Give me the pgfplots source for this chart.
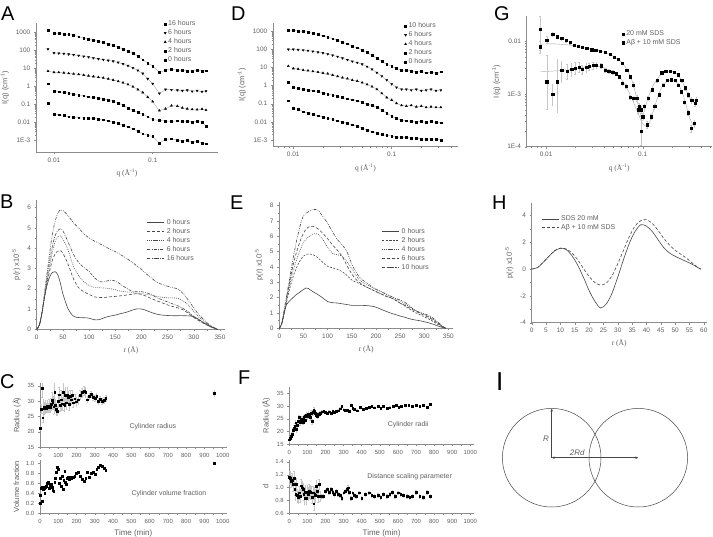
\documentclass[border=0pt]{standalone}
\usepackage{pgfplots}
\pgfplotsset{compat=1.18}
\usepackage{pgfplotstable}
\usepackage{fontspec}
\setmainfont{Liberation Sans}
\newfontfamily\seriffont{Liberation Serif}
\usetikzlibrary{arrows.meta}

\definecolor{axgray}{RGB}{140,140,140}
\definecolor{txtgray}{RGB}{95,95,95}
\definecolor{curve}{RGB}{70,70,70}

% ---------- SAXS curves, panel A ----------
\pgfplotstableread{
q      a16   a6    a4     a2     a0
0.0087 1290  117   6.9    1.4    0.12
0.0100 891   71    6.0    0.52   0.0275
0.0112 851   68    5.9    0.50   0.026
0.0126 813   65    5.6    0.45   0.024
0.0141 759   60    5.2    0.42   0.020
0.0158 692   56    4.9    0.35   0.019
0.0178 575   51    4.6    0.33   0.0178
0.0200 479   46    4.2    0.30   0.0174
0.0224 417   42    3.8    0.26   0.017
0.0251 363   37    3.5    0.24   0.0166
0.0282 316   33    3.2    0.22   0.015
0.0316 269   30    2.95   0.20   0.0138
0.0355 229   27    2.6    0.17   0.012
0.0398 186   24.5  2.24   0.15   0.010
0.0447 151   21    1.9    0.12   0.0085
0.0501 120   17.4  1.58   0.089  0.0071
0.0562 93    13.8  1.26   0.063  0.0056
0.0631 71    10.5  0.95   0.045  0.0043
0.0708 47    7.6   0.66   0.035  0.0032
0.0794 30    5.1   0.45   0.028  0.0023
0.0891 20    2.6   0.25   0.020  0.0019
0.1000 13.2  1.4   0.14   0.014  0.0016
0.117  5.8   0.40  0.044  0.0126 0.0007
0.135  8.0   0.66  0.056  0.0117 0.0011
0.155  8.9   0.63  0.083  0.0112 0.0012
0.178  7.9   0.60  0.079  0.012  0.0010
0.200  7.6   0.56  0.063  0.0112 0.0009
0.224  7.2   0.60  0.056  0.0115 0.00095
0.251  6.9   0.52  0.052  0.0105 0.0008
0.282  7.6   0.56  0.050  0.011  0.0009
0.316  7.2   0.50  0.054  0.010  0.0007
0.347  7.4   0.54  0.047  0.0063 0.00063
}\tabA

% ---------- SAXS curves, panel D ----------
\pgfplotstableread{
q      d10   d6    d4     d2     d0
0.0089 1122  98    11.7   1.6    0.148
0.0100 1096  98    8.7    0.79   0.055
0.0112 1000  93    8.1    0.69   0.049
0.0126 955   89    7.1    0.62   0.036
0.0141 871   83    6.6    0.56   0.030
0.0158 741   76    6.0    0.52   0.026
0.0178 661   68    5.5    0.48   0.022
0.0200 550   62    4.9    0.39   0.0186
0.0224 468   54    4.5    0.34   0.0155
0.0251 380   46    3.8    0.30   0.0138
0.0282 309   39    3.2    0.25   0.0115
0.0316 245   32    2.7    0.22   0.0098
0.0355 200   26    2.4    0.19   0.0083
0.0398 148   21.4  2.0    0.166  0.0069
0.0447 120   18.2  1.78   0.148  0.0059
0.0501 89    14.8  1.45   0.117  0.0046
0.0562 65    11.0  1.15   0.095  0.0035
0.0631 46    7.8   0.87   0.081  0.0029
0.0708 32    5.1   0.62   0.063  0.0023
0.0794 21    3.3   0.37   0.045  0.0020
0.0891 15.1  2.0   0.22   0.030  0.0018
0.1000 11.5  1.2   0.16   0.021  0.00166
0.112  8.9   0.79  0.105  0.0155 0.0015
0.126  6.8   0.62  0.081  0.0126 0.0014
0.141  7.1   0.62  0.074  0.0115 0.0014
0.158  6.3   0.56  0.081  0.0107 0.0013
0.178  5.5   0.62  0.068  0.0098 0.0013
0.200  6.0   0.52  0.074  0.0107 0.00117
0.224  5.1   0.56  0.063  0.0093 0.0011
0.251  5.5   0.62  0.068  0.0105 0.00117
0.282  4.9   0.52  0.063  0.0093 0.0011
0.316  5.8   0.56  0.063  0.0091 0.0010
}\tabD

% ---------- panel G, 20 mM SDS ----------
\pgfplotstableread{
q       i        ep    em
0.00867 0.0078   0.25  0.25
0.01016 0.0105   0.15  0.15
0.0117  0.0134   0.08  0.08
0.0131  0.0120   0.07  0.07
0.0145  0.0112   0.06  0.06
0.0160  0.0102   0.06  0.06
0.0177  0.0093   0.05  0.05
0.0196  0.0084   0.05  0.05
0.0216  0.0080   0.05  0.05
0.0237  0.0076   0.05  0.05
0.0263  0.0073   0.04  0.04
0.0296  0.0068   0.04  0.04
0.0326  0.0066   0.04  0.04
0.0362  0.0063   0.04  0.04
0.0407  0.0062   0.04  0.04
0.0459  0.0057   0.04  0.04
0.0509  0.0050   0.04  0.04
0.056   0.0045   0.05  0.05
0.0615  0.0038   0.05  0.05
0.0682  0.0028   0.06  0.06
0.0739  0.0021   0.08  0.08
0.080   0.00148  0.10  0.10
0.0867  0.00083  0.12  0.12
0.0916  0.00058  0.15  0.15
0.0961  0.0005   0.15  0.15
0.104   0.00058  0.12  0.12
0.114   0.00083  0.10  0.10
0.126   0.0012   0.08  0.08
0.140   0.0018   0.06  0.06
0.157   0.0025   0.05  0.05
0.173   0.0027   0.05  0.05
0.191   0.0027   0.05  0.05
0.212   0.0026   0.05  0.05
0.233   0.0023   0.05  0.05
0.253   0.0018   0.06  0.06
0.274   0.0013   0.08  0.08
0.296   0.00096  0.10  0.10
0.321   0.00077  0.12  0.12
0.347   0.00067  0.12  0.12
0.361   0.00077  0.12  0.12
}\tabGa

% ---------- panel G, Abeta + 10 mM SDS ----------
\pgfplotstableread{
q       i        ep    em
0.00867 0.0166   0.75  0.60
0.01016 0.0017   2.2   0.70
0.0117  0.0010   0.5   0.40
0.0131  0.0017   1.6   0.73
0.0145  0.0028   0.5   0.40
0.0164  0.0027   0.35  0.30
0.0184  0.0029   0.30  0.25
0.0199  0.0031   0.30  0.25
0.0220  0.0032   0.25  0.20
0.0237  0.0029   0.20  0.20
0.0263  0.0032   0.20  0.20
0.0280  0.0033   0.15  0.15
0.0305  0.0035   0.15  0.15
0.0333  0.0035   0.12  0.12
0.0370  0.0034   0.10  0.10
0.0407  0.0028   0.10  0.10
0.0445  0.0027   0.08  0.08
0.0490  0.0026   0.08  0.08
0.0530  0.0024   0.08  0.08
0.0570  0.0021   0.08  0.08
0.0615  0.0016   0.08  0.08
0.0670  0.0014   0.08  0.08
0.0739  0.00087  0.10  0.10
0.0800  0.00082  0.10  0.10
0.0900  0.0005   0.15  0.15
0.0961  0.000195 0.9   0.45
0.1000  0.00037  0.15  0.15
0.111   0.00026  0.15  0.15
0.122   0.00037  0.12  0.12
0.133   0.00058  0.10  0.10
0.147   0.00096  0.08  0.08
0.162   0.00148  0.06  0.06
0.178   0.0018   0.05  0.05
0.196   0.00185  0.05  0.05
0.216   0.0018   0.05  0.05
0.232   0.00148  0.06  0.06
0.250   0.0011   0.08  0.08
0.271   0.0007   0.10  0.10
0.293   0.00044  0.12  0.12
0.318   0.00022  0.15  0.15
0.343   0.00028  0.15  0.15
}\tabGb

% ---------- panel G, model fits ----------
\pgfplotstableread{
q      fa       fb
0.0087 0.0087   0.0026
0.012  0.0088   0.0027
0.016  0.0085   0.0028
0.020  0.0080   0.0030
0.030  0.0070   0.0033
0.036  0.0065   0.0033
0.040  0.0061   0.0031
0.050  0.0051   0.0026
0.060  0.0040   0.0019
0.070  0.0027   0.0012
0.080  0.0015   0.0007
0.090  0.0006   0.00042
0.097  0.00037  0.00030
0.105  0.0005   0.00025
0.115  0.0009   0.00026
0.130  0.0015   0.0005
0.150  0.0022   0.0011
0.170  0.0026   0.0016
0.190  0.0027   0.0018
0.210  0.0026   0.0018
0.240  0.0021   0.0014
0.270  0.0014   0.0008
0.300  0.0009   0.0004
0.330  0.0007   0.00026
0.350  0.00068  0.00025
}\tabGf

% ---------- pair distance distributions, panel B ----------
\pgfplotstableread{
r   h0    h2    h4    h6    h16
0   0     0     0     0     0
5   0.2   0.2   0.2   0.2   0.2
10  0.8   0.8   0.8   0.8   0.8
15  1.6   1.6   1.6   1.7   1.8
20  2.2   2.3   2.4   2.6   2.8
25  2.6   2.9   3.1   3.4   3.8
30  2.8   3.4   3.8   4.1   4.7
35  2.84  3.7   4.3   4.6   5.3
40  2.7   3.85  4.55  4.85  5.7
45  2.3   3.88  4.6   4.95  5.88
50  1.75  3.75  4.45  4.85  5.85
60  1.0   3.2   3.9   4.3   5.6
70  0.65  2.5   3.1   3.7   5.25
80  0.58  2.05  2.65  3.3   5.0
90  0.57  1.85  2.35  3.05  4.7
100 0.55  1.72  2.15  2.85  4.5
110 0.47  1.6   2.07  2.55  4.35
120 0.48  1.57  2.05  2.35  4.22
130 0.58  1.57  2.03  2.35  4.08
140 0.65  1.6   2.0   2.42  3.95
150 0.7   1.62  1.95  2.38  3.83
160 0.77  1.65  1.88  2.22  3.68
170 0.83  1.68  1.85  2.05  3.52
180 0.92  1.72  1.82  1.9   3.35
190 1.0   1.75  1.78  1.85  3.15
200 1.0   1.72  1.75  1.85  2.95
210 0.92  1.62  1.72  1.8   2.72
220 0.82  1.5   1.68  1.7   2.5
230 0.74  1.4   1.62  1.55  2.32
240 0.7   1.3   1.58  1.45  2.2
250 0.68  1.2   1.55  1.35  2.12
260 0.67  1.12  1.55  1.25  2.05
270 0.67  1.05  1.52  1.15  1.98
280 0.67  0.95  1.4   1.02  1.75
290 0.66  0.78  1.18  0.85  1.42
300 0.62  0.58  0.88  0.63  1.05
310 0.48  0.42  0.6   0.45  0.72
320 0.3   0.28  0.38  0.3   0.45
330 0.15  0.15  0.2   0.17  0.22
340 0.04  0.04  0.06  0.06  0.07
345 0     0     0     0     0
}\tabB

% ---------- pair distance distributions, panel E ----------
\pgfplotstableread{
r   h0    h2    h4    h6    h10
0   0     0     0     0     0
5   0.3   0.3   0.3   0.3   0.3
10  1.0   1.0   1.0   1.0   1.2
15  1.55  1.7   1.8   1.9   2.1
20  1.75  2.4   2.6   2.8   3.0
25  1.9   3.0   3.3   3.6   3.9
30  2.05  3.5   3.9   4.3   4.8
35  2.2   3.9   4.4   4.9   5.6
40  2.3   4.25  4.85  5.4   6.3
45  2.42  4.5   5.25  5.85  6.9
50  2.53  4.7   5.6   6.2   7.35
55  2.63  4.82  5.8   6.45  7.5
60  2.6   4.85  5.95  6.6   7.6
70  2.38  4.8   6.15  6.65  7.75
80  2.2   4.6   6.15  6.5   7.7
90  1.98  4.3   5.8   6.2   7.3
100 1.75  4.05  5.3   5.85  6.85
110 1.67  3.95  4.9   5.45  6.3
120 1.65  3.85  4.8   5.1   5.8
130 1.6   3.7   4.7   4.7   5.45
140 1.55  3.45  4.35  4.1   5.0
150 1.5   3.15  3.9   3.55  4.2
160 1.5   3.0   3.4   3.15  3.6
170 1.5   2.85  3.05  2.9   3.2
180 1.48  2.7   2.85  2.7   3.0
190 1.45  2.55  2.7   2.55  2.75
200 1.38  2.4   2.55  2.4   2.55
210 1.25  2.25  2.4   2.25  2.4
220 1.12  2.12  2.25  2.1   2.25
230 1.0   2.0   2.1   2.0   2.1
240 0.9   1.85  1.95  1.85  1.95
250 0.8   1.65  1.8   1.65  1.85
260 0.72  1.45  1.6   1.5   1.7
270 0.62  1.25  1.4   1.32  1.45
280 0.55  1.05  1.2   1.15  1.2
290 0.5   0.9   1.05  1.0   1.05
300 0.43  0.75  0.9   0.85  0.95
310 0.35  0.6   0.75  0.7   0.82
320 0.25  0.42  0.55  0.5   0.62
330 0.13  0.22  0.3   0.28  0.35
340 0.04  0.06  0.08  0.07  0.1
345 0     0     0     0     0
}\tabE

% ---------- panel H ----------
\pgfplotstableread{
r  s20   ab
0  0     0
2  0.1   0.1
4  0.5   0.5
6  0.95  0.95
8  1.35  1.38
10 1.55  1.55
12 1.45  1.5
14 1.0   1.2
16 0.3   0.7
18 -0.6  0.05
20 -1.6  -0.55
22 -2.4  -1.0
24 -2.9  -1.2
26 -2.6  -1.05
28 -1.8  -0.5
30 -0.6  0.4
32 0.7   1.4
34 1.9   2.4
36 2.8   3.2
38 3.3   3.6
40 3.2   3.68
42 2.8   3.4
44 2.2   2.9
46 1.6   2.3
48 1.2   1.8
50 0.95  1.4
52 0.75  1.1
54 0.55  0.8
56 0.35  0.45
58 0.1   0.1
59 0     0
}\tabH

% ---------- panel C ----------
\pgfplotstableread{
t   r     e
0   21.2  0.8
5   27.5  1.5
10  34.2  3.0
15  24.6  1.5
20  28.0  2.5
25  27.6  2.0
30  28.2  2.0
35  27.8  1.5
40  28.4  2.0
45  27.9  1.5
50  28.5  2.0
55  28.0  1.5
60  29.0  2.0
65  30.3  2.5
70  29.5  2.0
75  28.2  2.5
80  33.0  4.0
85  28.6  2.0
90  27.3  2.0
95  26.8  1.5
100 30.1  2.0
105 32.1  2.5
110 28.7  2.0
115 30.5  3.0
120 29.2  2.0
125 33.0  3.0
130 29.0  2.0
135 28.8  2.0
140 31.9  2.5
145 29.5  2.0
150 32.0  2.5
155 31.2  2.0
160 29.0  2.0
165 31.6  2.0
170 30.5  1.5
175 32.0  1.5
180 29.5  1.5
190 30.8  1.5
200 29.8  1.5
210 30.5  1.5
220 32.0  1.5
230 32.8  1.5
240 33.3  1.5
250 32.9  1.5
260 30.5  1.0
270 31.7  1.0
280 32.3  1.0
290 31.2  1.0
300 31.0  1.0
310 31.5  1.0
320 30.0  1.0
330 30.6  1.0
340 29.9  1.0
350 30.2  1.0
360 31.0  1.0
955 32.6  1.0
}\tabCr

\pgfplotstableread{
t   v
0   0.20
3   0.37
6   0.50
10  0.24
14  0.52
18  0.48
22  0.50
26  0.40
30  0.52
35  0.55
40  0.60
45  0.62
50  0.50
55  0.56
60  0.58
65  0.52
70  0.47
75  0.45
80  0.62
85  0.70
90  0.82
95  0.92
100 0.88
105 0.60
110 0.70
115 0.55
120 0.75
125 0.48
130 0.66
135 0.84
140 0.62
145 0.58
150 0.70
155 0.72
160 0.68
165 0.72
170 0.70
180 0.72
190 0.74
200 0.80
210 0.83
220 0.74
230 0.68
240 0.65
250 0.70
260 0.82
270 0.72
280 0.80
290 0.82
300 0.78
310 0.88
320 0.92
330 0.97
340 0.95
350 0.90
360 0.86
955 1.00
}\tabCv

% ---------- panel F ----------
\pgfplotstableread{
t   r     e
0   16.8  0.8
5   17.5  0.8
10  18.2  0.8
15  19.0  0.8
20  20.5  1.0
25  21.5  1.0
30  22.2  1.0
35  23.5  1.0
40  20.8  1.0
45  22.5  1.0
50  24.0  1.0
55  25.5  1.0
60  23.5  1.0
65  24.5  1.0
70  25.0  1.0
75  23.8  1.0
80  25.5  1.0
85  26.0  1.0
90  24.5  1.0
95  26.5  1.0
100 25.8  1.0
105 27.0  1.0
110 26.2  1.0
115 25.5  1.0
120 27.3  1.0
125 24.0  1.0
130 27.5  1.0
135 28.5  1.0
140 28.0  1.0
145 27.2  1.0
150 26.5  0.6
155 26.0  0.6
160 27.0  0.6
165 26.6  0.6
170 27.2  0.6
180 27.8  0.4
190 28.0  0.4
200 27.6  0.4
210 27.2  0.4
220 27.8  0.4
230 27.3  0.4
240 27.9  0.4
250 27.5  0.4
260 28.0  0.4
270 28.2  0.4
280 29.0  0.4
290 29.8  0.4
300 28.6  0.4
310 28.5  0.4
320 28.4  0.4
330 27.9  0.4
340 30.2  0.4
350 29.3  0.4
360 28.8  0.4
375 28.2  0.4
390 29.6  0.4
410 28.9  0.4
425 29.3  0.4
440 29.5  0.4
455 29.8  0.4
470 29.4  0.4
490 29.9  0.4
505 29.2  0.4
520 29.8  0.4
540 29.1  0.4
555 29.4  0.4
575 30.1  0.4
590 30.3  0.4
605 29.6  0.4
620 30.0  0.4
640 30.2  0.4
660 30.3  0.4
680 30.0  0.4
700 30.2  0.4
720 30.1  0.4
740 30.3  0.4
760 29.6  0.4
780 30.8  0.4
}\tabFr

\pgfplotstableread{
t   d     e
0   1.16  0.10
5   1.15  0.10
10  1.10  0.10
15  1.12  0.10
20  1.05  0.10
25  1.15  0.10
30  0.98  0.10
35  0.90  0.10
40  1.05  0.10
45  0.88  0.10
50  0.85  0.10
55  0.92  0.10
60  0.87  0.10
65  1.03  0.10
70  1.00  0.10
75  0.97  0.10
80  0.90  0.10
85  0.84  0.10
90  0.93  0.10
95  0.84  0.10
100 0.93  0.10
105 0.90  0.10
110 0.95  0.10
115 0.93  0.10
120 0.92  0.10
125 0.85  0.10
130 0.92  0.10
135 0.75  0.10
140 0.90  0.10
145 0.88  0.10
150 1.02  0.10
155 0.95  0.10
160 0.87  0.10
165 1.05  0.08
170 0.87  0.08
180 0.87  0.03
190 0.87  0.03
200 0.95  0.03
210 0.97  0.03
220 0.93  0.03
230 0.97  0.03
240 0.93  0.03
250 0.90  0.03
260 0.95  0.03
270 0.90  0.03
280 0.88  0.03
290 0.83  0.03
300 0.92  0.03
310 0.95  0.03
320 0.97  0.03
325 1.00  0.03
330 0.93  0.03
340 0.83  0.03
350 0.92  0.03
360 0.88  0.03
370 0.87  0.03
385 0.92  0.03
400 0.83  0.03
420 0.90  0.03
440 0.92  0.03
455 0.88  0.03
470 0.87  0.03
490 0.88  0.03
505 0.85  0.03
520 0.90  0.03
540 0.87  0.03
555 0.90  0.03
570 0.93  0.03
585 0.87  0.03
600 0.92  0.03
615 0.90  0.03
630 0.88  0.03
650 0.87  0.03
665 0.85  0.03
680 0.87  0.03
700 0.93  0.03
720 0.87  0.03
740 0.85  0.03
760 0.93  0.03
780 0.87  0.03
}\tabFd

\pgfplotsset{
  pnl/.style={
    scale only axis,
    anchor=south west,
    axis lines*=left,
    axis line style={draw=axgray, line width=0.5pt},
    tick style={draw=axgray, line width=0.4pt},
    tick align=outside,
    major tick length=2.2pt,
    minor tick length=1.3pt,
    tick label style={font=\fontsize{6.5}{7}\selectfont, text=txtgray},
    label style={font=\fontsize{7.5}{8}\selectfont, text=txtgray},
    legend style={draw=none, fill=none, font=\fontsize{7}{8}\selectfont,
      text=txtgray, inner sep=0pt, row sep=-1.5pt},
    legend cell align=left,
  },
  fitl/.style={gray!70, line width=0.4pt, forget plot},
  dts/.style={only marks, mark=square*, mark size=0.9pt, black},
  c0/.style={curve, line width=0.6pt, smooth, tension=0.5},
}

\begin{document}
\begin{tikzpicture}
\useasboundingbox (0,0) rectangle (713bp,-537bp);

\tikzset{plabel/.style={anchor=base west, inner sep=0pt, font=\fontsize{20}{20}\selectfont}}
\node[plabel] at (1bp,-20bp) {A};
\node[plabel] at (231bp,-20.5bp) {D};
\node[plabel] at (494bp,-20bp) {G};
\node[plabel] at (0bp,-208bp) {B};
\node[plabel] at (230bp,-209.5bp) {E};
\node[plabel] at (492bp,-209bp) {H};
\node[plabel] at (0bp,-388bp) {C};
\node[plabel] at (238bp,-384bp) {F};
\node[plabel, font=\fontsize{26}{26}\selectfont] at (496bp,-390bp) {I};

% ---------------- A ----------------
\begin{axis}[pnl, xmode=log, ymode=log, at={(36bp,-152bp)}, width=182bp, height=129bp,
  xmin=0.00658, xmax=0.459, ymin=2.2e-4, ymax=3300,
  xtick={0.01,0.1}, xticklabels={0.01,0.1},
  minor xtick={0.007,0.008,0.009,0.02,0.03,0.04,0.05,0.06,0.07,0.08,0.09,0.2,0.3,0.4},
  ytick={0.001,0.01,0.1,1,10,100,1000},
  yticklabels={1E-3,0.01,0.1,1,10,100,1000},
  xlabel={\seriffont q (Å\textsuperscript{-1})},
  ylabel={I(q) (cm\textsuperscript{-1})},
  legend style={at={(0.703,1.035)}, anchor=north west}]
\addplot[fitl, skip coords between index={0}{1}] table[x=q,y=a16] {\tabA};
\addplot[fitl, skip coords between index={0}{1}] table[x=q,y=a6] {\tabA};
\addplot[fitl] table[x=q,y=a4] {\tabA};
\addplot[fitl, skip coords between index={0}{1}] table[x=q,y=a2] {\tabA};
\addplot[fitl, skip coords between index={0}{1}] table[x=q,y=a0] {\tabA};
\addplot[dts] table[x=q,y=a16] {\tabA}; \addlegendentry{16 hours}
\addplot[dts, mark=triangle*, mark options={rotate=180}, mark size=1.2pt] table[x=q,y=a6] {\tabA}; \addlegendentry{6 hours}
\addplot[dts, mark=triangle*, mark size=1.2pt] table[x=q,y=a4] {\tabA}; \addlegendentry{4 hours}
\addplot[dts] table[x=q,y=a2] {\tabA}; \addlegendentry{2 hours}
\addplot[dts] table[x=q,y=a0] {\tabA}; \addlegendentry{0 hours}
\end{axis}

% ---------------- D ----------------
\begin{axis}[pnl, xmode=log, ymode=log, at={(273bp,-146.7bp)}, width=185bp, height=123.7bp,
  xmin=0.00622, xmax=0.472, ymin=4.3e-4, ymax=2760,
  xtick={0.01,0.1}, xticklabels={0.01,0.1},
  minor xtick={0.007,0.008,0.009,0.02,0.03,0.04,0.05,0.06,0.07,0.08,0.09,0.2,0.3,0.4},
  ytick={0.001,0.01,0.1,1,10,100,1000},
  yticklabels={1E-3,0.01,0.1,1,10,100,1000},
  xlabel={\seriffont q (Å\textsuperscript{-1})},
  ylabel={I(q) (cm\textsuperscript{-1})},
  legend style={at={(0.71,1.02)}, anchor=north west}]
\addplot[fitl] table[x=q,y=d10] {\tabD};
\addplot[fitl] table[x=q,y=d6] {\tabD};
\addplot[fitl, skip coords between index={0}{1}] table[x=q,y=d4] {\tabD};
\addplot[fitl, skip coords between index={0}{1}] table[x=q,y=d2] {\tabD};
\addplot[fitl, skip coords between index={0}{1}] table[x=q,y=d0] {\tabD};
\addplot[dts] table[x=q,y=d10] {\tabD}; \addlegendentry{10 hours}
\addplot[dts, mark=triangle*, mark options={rotate=180}, mark size=1.2pt] table[x=q,y=d6] {\tabD}; \addlegendentry{6 hours}
\addplot[dts, mark=triangle*, mark size=1.2pt] table[x=q,y=d4] {\tabD}; \addlegendentry{4 hours}
\addplot[dts] table[x=q,y=d2] {\tabD}; \addlegendentry{2 hours}
\addplot[dts] table[x=q,y=d0] {\tabD}; \addlegendentry{0 hours}
\end{axis}

% ---------------- G ----------------
\begin{axis}[pnl, xmode=log, ymode=log, at={(526.7bp,-146.7bp)}, width=185bp, height=130.7bp,
  xmin=0.0063, xmax=0.518, ymin=1e-4, ymax=0.0296,
  xtick={0.01,0.1}, xticklabels={0.01,0.1},
  minor xtick={0.007,0.008,0.009,0.02,0.03,0.04,0.05,0.06,0.07,0.08,0.09,0.2,0.3,0.4,0.5},
  ytick={0.0001,0.001,0.01}, yticklabels={1E-4,1E-3,0.01},
  xlabel={\seriffont q (Å\textsuperscript{-1})},
  ylabel={I(q) (cm\textsuperscript{-1})},
  legend style={at={(0.515,0.905)}, anchor=north west}]
\addplot[fitl, smooth] table[x=q,y=fa] {\tabGf};
\addplot[fitl, smooth] table[x=q,y=fb] {\tabGf};
\addplot[dts, mark size=1.1pt, error bars/.cd, y dir=both, y explicit relative,
  error bar style={gray!45, line width=0.4pt},
  error mark options={gray!45, mark size=0.8pt, rotate=90}]
  table[x=q, y=i, y error plus=ep, y error minus=em] {\tabGa};
\addlegendentry{20 mM SDS}
\addplot[dts, mark size=1.1pt, error bars/.cd, y dir=both, y explicit relative,
  error bar style={gray!45, line width=0.4pt},
  error mark options={gray!45, mark size=0.8pt, rotate=90}]
  table[x=q, y=i, y error plus=ep, y error minus=em] {\tabGb};
\addlegendentry{Aβ + 10 mM SDS}
\end{axis}

% ---------------- B ----------------
\begin{axis}[pnl, at={(36.7bp,-329.3bp)}, width=188.5bp, height=129.3bp,
  xmin=0, xmax=360, ymin=0, ymax=6.37,
  xtick={0,50,...,350}, ytick={0,1,...,6},
  minor x tick num=1, minor y tick num=1,
  xlabel={\seriffont r (Å)}, ylabel={p(r) x10\textsuperscript{-5}},
  legend style={at={(0.585,0.87)}, anchor=north west},
  /pgf/number format/assume math mode=true]
\addplot[c0] table[x=r,y=h0] {\tabB}; \addlegendentry{0 hours}
\addplot[c0, dash pattern=on 3pt off 2pt] table[x=r,y=h2] {\tabB}; \addlegendentry{2 hours}
\addplot[c0, dash pattern=on 0.8pt off 1.2pt] table[x=r,y=h4] {\tabB}; \addlegendentry{4 hours}
\addplot[c0, dash pattern=on 3pt off 1.3pt on 0.8pt off 1.3pt] table[x=r,y=h6] {\tabB}; \addlegendentry{6 hours}
\addplot[c0, dash pattern=on 3pt off 1.2pt on 0.7pt off 1.2pt on 0.7pt off 1.2pt] table[x=r,y=h16] {\tabB}; \addlegendentry{16 hours}
\end{axis}

% ---------------- E ----------------
\begin{axis}[pnl, at={(279.3bp,-328.3bp)}, width=173.9bp, height=126.6bp,
  xmin=0, xmax=360, ymin=0, ymax=8.26,
  xtick={0,50,...,350}, ytick={0,1,...,8},
  minor x tick num=1, minor y tick num=1,
  xlabel={\seriffont r (Å)}, ylabel={p(r) x10\textsuperscript{-5}},
  legend style={at={(0.59,0.81)}, anchor=north west},
  /pgf/number format/assume math mode=true]
\addplot[c0] table[x=r,y=h0] {\tabE}; \addlegendentry{0 hours}
\addplot[c0, dash pattern=on 2pt off 1.5pt] table[x=r,y=h2] {\tabE}; \addlegendentry{2 hours}
\addplot[c0, dash pattern=on 0.8pt off 1.2pt] table[x=r,y=h4] {\tabE}; \addlegendentry{4 hours}
\addplot[c0, dash pattern=on 3pt off 2pt] table[x=r,y=h6] {\tabE}; \addlegendentry{6 hours}
\addplot[c0, dash pattern=on 3pt off 1.2pt on 0.7pt off 1.2pt on 0.7pt off 1.2pt] table[x=r,y=h10] {\tabE}; \addlegendentry{10 hours}
\end{axis}

% ---------------- H ----------------
\begin{axis}[pnl, at={(531.7bp,-322.7bp)}, width=175bp, height=119.4bp,
  xmin=0, xmax=61, ymin=-4, ymax=4.9,
  xtick={0,5,...,60}, ytick={-4,-2,...,4}, minor y tick num=1,
  xlabel={\seriffont r (Å)}, ylabel={p(r) x10\textsuperscript{-5}},
  legend style={at={(0.055,0.915)}, anchor=north west},
  /pgf/number format/assume math mode=true]
\addplot[c0] table[x=r,y=s20] {\tabH}; \addlegendentry{SDS 20 mM}
\addplot[c0, dash pattern=on 3pt off 2pt] table[x=r,y=ab] {\tabH}; \addlegendentry{Aβ + 10 mM SDS}
\end{axis}

% ---------------- C ----------------
\begin{axis}[pnl, at={(40bp,-447.3bp)}, width=186.7bp, height=64.3bp,
  tick label style={font=\fontsize{6}{7}\selectfont},
  xmin=0, xmax=1022, xtick={0,100,...,1000}, minor x tick num=1,
  ymin=15, ymax=35.9, ytick={15,20,...,35},
  ylabel={Radius (Å)},
  /pgf/number format/1000 sep={},
  /pgf/number format/assume math mode=true]
\addplot[dts, error bars/.cd, y dir=both, y explicit,
  error bar style={gray!45, line width=0.4pt},
  error mark options={gray!45, mark size=0.8pt, rotate=90}]
  table[x=t, y=r, y error=e] {\tabCr};
\node[font=\fontsize{7}{8}\selectfont, text=txtgray] at (axis cs:618,21.7) {Cylinder radius};
\end{axis}
\begin{axis}[pnl, at={(40bp,-513.3bp)}, width=186.7bp, height=53.3bp,
  tick label style={font=\fontsize{6}{7}\selectfont},
  xmin=0, xmax=1022, xtick={0,100,...,1000}, minor x tick num=1,
  ymin=0, ymax=1.07, ytick={0,0.2,...,1.0},
  yticklabel style={/pgf/number format/.cd, fixed, fixed zerofill, precision=1},
  xlabel={Time (min)}, ylabel={Volume fraction},
  xlabel style={font=\fontsize{8}{9}\selectfont},
  /pgf/number format/1000 sep={},
  /pgf/number format/assume math mode=true]
\addplot[dts] table[x=t, y=v] {\tabCv};
\node[font=\fontsize{7}{8}\selectfont, text=txtgray] at (axis cs:706,0.386) {Cylinder volume fraction};
\end{axis}

% ---------------- F ----------------
\begin{axis}[pnl, at={(289.3bp,-444.3bp)}, width=184.6bp, height=57.6bp,
  tick label style={font=\fontsize{6}{7}\selectfont},
  xmin=0, xmax=1020, xtick={0,100,...,1000}, minor x tick num=1,
  ymin=15, ymax=37.6, ytick={15,20,...,35},
  ylabel={Radius (Å)},
  /pgf/number format/1000 sep={},
  /pgf/number format/assume math mode=true]
\addplot[dts, error bars/.cd, y dir=both, y explicit,
  error bar style={gray!45, line width=0.4pt},
  error mark options={gray!45, mark size=0.8pt, rotate=90}]
  table[x=t, y=r, y error=e] {\tabFr};
\node[font=\fontsize{7}{8}\selectfont, text=txtgray] at (axis cs:657,22.8) {Cylinder radii};
\end{axis}
\begin{axis}[pnl, at={(289.3bp,-513.3bp)}, width=184.6bp, height=53.3bp,
  tick label style={font=\fontsize{6}{7}\selectfont},
  xmin=0, xmax=1020, xtick={0,100,...,1000}, minor x tick num=1,
  ymin=0.6, ymax=1.43, ytick={0.6,0.8,...,1.4},
  yticklabel style={/pgf/number format/.cd, fixed, fixed zerofill, precision=1},
  xlabel={Time (min)}, ylabel={d},
  xlabel style={font=\fontsize{8}{9}\selectfont},
  /pgf/number format/1000 sep={},
  /pgf/number format/assume math mode=true]
\addplot[dts, error bars/.cd, y dir=both, y explicit,
  error bar style={gray!45, line width=0.4pt},
  error mark options={gray!45, mark size=0.8pt, rotate=90}]
  table[x=t, y=d, y error=e] {\tabFd};
\node[font=\fontsize{7}{8}\selectfont, text=txtgray] at (axis cs:665,1.167) {Distance scaling parameter};
\end{axis}

% ---------------- I ----------------
\draw[curve, line width=0.5pt] (551.7bp,-457.7bp) circle (49.3bp);
\draw[curve, line width=0.5pt] (638.3bp,-457.7bp) circle (49.3bp);
\draw[curve, line width=0.5pt, -{Stealth[length=3pt,width=2.5pt]}] (551.7bp,-457.7bp) -- (551.7bp,-408.6bp);
\draw[curve, line width=0.5pt, {Stealth[length=3pt,width=2.5pt]}-{Stealth[length=3pt,width=2.5pt]}] (551.7bp,-457.7bp) -- (638.3bp,-457.7bp);
\node[font=\itshape\fontsize{8}{9}\selectfont, text=txtgray] at (546bp,-438.3bp) {R};
\node[font=\itshape\fontsize{8}{9}\selectfont, text=txtgray] at (577.3bp,-452.3bp) {2Rd};
\end{tikzpicture}
\end{document}
